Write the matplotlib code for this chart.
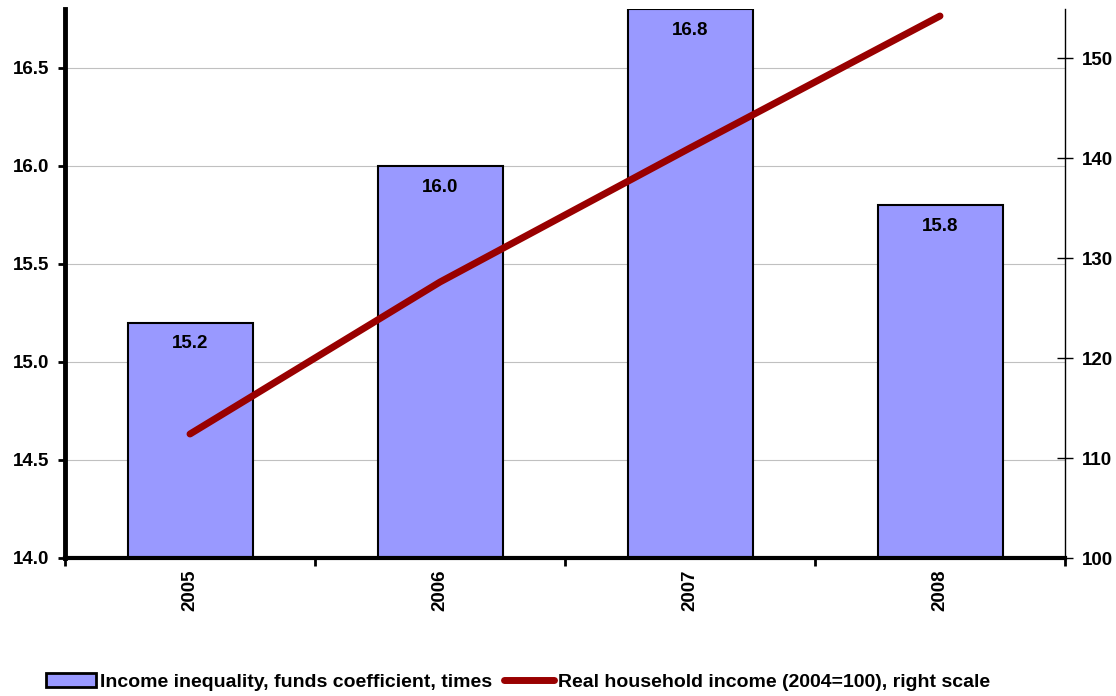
import matplotlib.pyplot as plt
from matplotlib.patches import Patch
from matplotlib.lines import Line2D

plt.rcParams['font.family'] = ['Liberation Sans', 'DejaVu Sans']
plt.rcParams['font.weight'] = 'bold'

years = ['2005', '2006', '2007', '2008']
funds_coef = [15.2, 16.0, 16.8, 15.8]
real_income = [112.4, 127.6, 141.0, 154.2]

bar_color = '#9999FF'
line_color = '#990000'

fig = plt.figure(figsize=(11.16, 6.96), dpi=100)
ax = fig.add_axes([65 / 1116, 138 / 696, 1000 / 1116, 549 / 696])
ax2 = ax.twinx()

x = list(range(len(years)))
bars = ax.bar(x, funds_coef, width=0.5, color=bar_color, edgecolor='black',
              linewidth=1.5, zorder=2)
for xi, v in zip(x, funds_coef):
    ax.text(xi, v - 0.065, f'{v:.1f}', ha='center', va='top',
            fontsize=13.5, fontweight='bold', zorder=3)

ax.set_xlim(-0.5, 3.5)
ax.set_ylim(14.0, 16.8)
ax.set_yticks([14.0, 14.5, 15.0, 15.5, 16.0, 16.5])
ax.set_yticklabels([f'{t:.1f}' for t in ax.get_yticks()])
ax.yaxis.grid(True, color='#c0c0c0', linewidth=0.8, zorder=0)
ax.set_axisbelow(True)

# category ticks sit between the bars, labels at bar centres
ax.set_xticks([-0.5, 0.5, 1.5, 2.5, 3.5])
ax.set_xticklabels([])
ax.set_xticks(x, minor=True)
ax.set_xticklabels(years, minor=True, rotation=90, fontsize=13.5,
                   fontweight='bold')
ax.tick_params(axis='x', which='minor', length=0, pad=8)
ax.tick_params(axis='x', which='major', length=6, width=2, direction='out')
ax.tick_params(axis='y', length=5, width=2, direction='out', labelsize=13.5,
               pad=6)

for side in ['top', 'right']:
    ax.spines[side].set_visible(False)
ax.spines['left'].set_linewidth(3.5)
ax.spines['bottom'].set_linewidth(3)

ax2.plot(x, real_income, color=line_color, linewidth=5,
         solid_capstyle='round', zorder=4)
ax2.set_ylim(100, 154.9)
ax2.set_yticks([100, 110, 120, 130, 140, 150])
ax2.tick_params(axis='y', length=12, width=1, direction='inout',
                labelsize=13.5, pad=6)
for side in ['top', 'left', 'bottom']:
    ax2.spines[side].set_visible(False)
ax2.spines['right'].set_linewidth(1)
for lbl in ax2.get_yticklabels() + ax.get_yticklabels():
    lbl.set_fontweight('bold')

handles = [Patch(facecolor=bar_color, edgecolor='black', linewidth=2),
           Line2D([0], [0], color=line_color, linewidth=5,
                  solid_capstyle='round')]
labels = ['Income inequality, funds coefficient, times',
          'Real household income (2004=100), right scale']
fig.legend(handles, labels, loc='center', bbox_to_anchor=(518 / 1116, 14 / 696),
           ncol=2, frameon=False, handlelength=2.6,
           handletextpad=0.2, columnspacing=0.6,
           prop={'weight': 'bold', 'size': 14})

fig.savefig('out.png', dpi=100)
